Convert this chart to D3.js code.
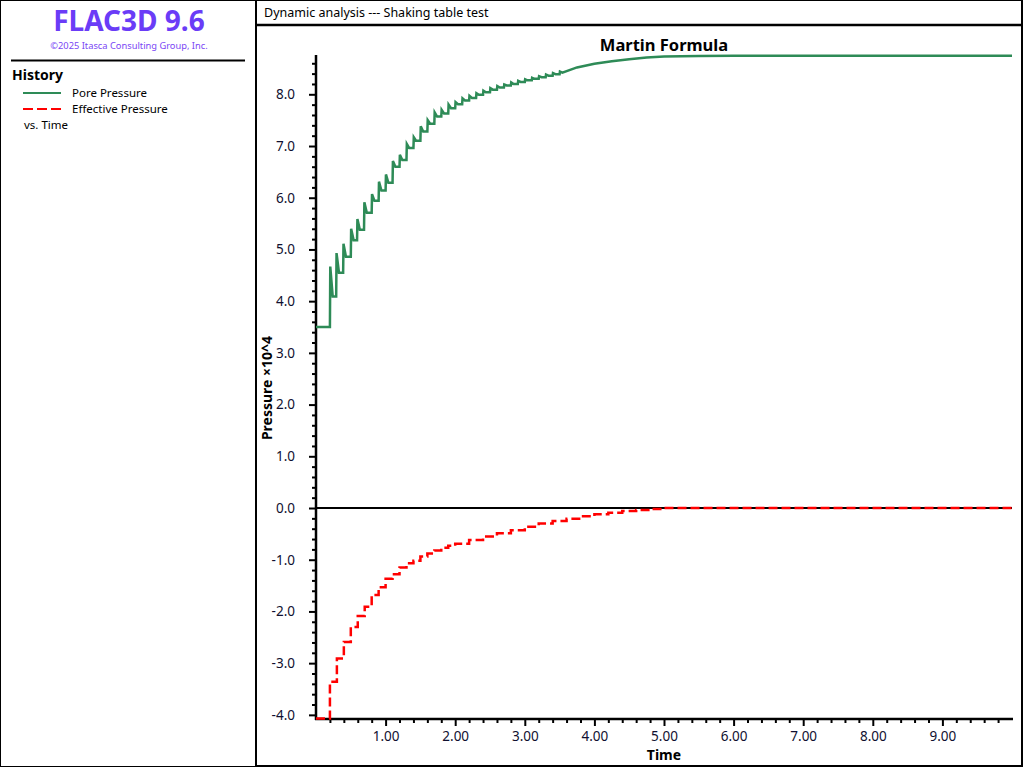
<!DOCTYPE html>
<html lang="en">
<head>
    <meta charset="UTF-8">
    <title>Martin Formula</title>
    <script src="https://d3js.org/d3.v7.min.js"></script>
    <style>
        body{
            margin: 0;
            background-color: white;
        }
        svg text{
            font-family: "Noto Sans", "Open Sans", sans-serif;
        }
        .tick text{
            font-size: 13.5px;
            fill: #101030;
        }
    </style>
</head>
<body>
<svg id="canvas" width="1024" height="768"></svg>
<script>

    // pore pressure: vertices (time, pressure x10^4)
    let poreT = [0, 0.20, 0.20, 0.205, 0.24, 0.29, 0.295, 0.33, 0.39, 0.395, 0.43, 0.50, 0.505, 0.54,
        0.59, 0.595, 0.63, 0.69, 0.695, 0.73, 0.80, 0.805, 0.84, 0.90, 0.905, 0.94, 1.00, 1.005, 1.04,
        1.10, 1.105, 1.14, 1.20, 1.205, 1.24, 1.30, 1.305, 1.34, 1.40, 1.405, 1.44, 1.50, 1.505, 1.54,
        1.60, 1.605, 1.64, 1.70, 1.705, 1.74, 1.80, 1.805, 1.84, 1.90, 1.905, 1.94, 2.00, 2.005, 2.04,
        2.10, 2.105, 2.14, 2.20, 2.205, 2.24, 2.30, 2.305, 2.34, 2.40, 2.405, 2.44,
        2.50, 2.505, 2.54, 2.60, 2.605, 2.64, 2.70, 2.705, 2.74, 2.80, 2.805, 2.84, 2.90, 2.905, 2.94,
        3.00, 3.005, 3.04, 3.10, 3.105, 3.14, 3.20, 3.205, 3.24, 3.30, 3.305, 3.34, 3.40, 3.405, 3.44,
        3.50, 3.505, 3.54, 3.75, 4.00, 4.25, 4.50, 4.75, 5.00, 5.50, 6.00, 10.00];
    let poreV = [3.50, 3.50, 3.50, 4.67, 4.09, 4.09, 4.93, 4.55, 4.55, 5.11, 4.86, 4.86, 5.40, 5.18,
        5.18, 5.59, 5.38, 5.38, 5.91, 5.71, 5.71, 6.07, 5.94, 5.94, 6.31, 6.14, 6.14, 6.45, 6.29,
        6.29, 6.71, 6.60, 6.60, 6.83, 6.73, 6.73, 7.04, 6.96, 6.96, 7.17, 7.10, 7.10, 7.38, 7.28,
        7.28, 7.50, 7.43, 7.43, 7.65, 7.57, 7.57, 7.70, 7.63, 7.63, 7.80, 7.73, 7.73, 7.85, 7.81,
        7.81, 7.92, 7.88, 7.88, 7.97, 7.93, 7.93, 8.02, 7.99, 7.99, 8.07, 8.04,
        8.04, 8.12, 8.09, 8.09, 8.16, 8.13, 8.13, 8.19, 8.17, 8.17, 8.23, 8.20, 8.20, 8.26, 8.24,
        8.24, 8.29, 8.27, 8.27, 8.32, 8.30, 8.30, 8.35, 8.33, 8.33, 8.38, 8.36, 8.36, 8.41, 8.39,
        8.39, 8.44, 8.42, 8.52, 8.59, 8.64, 8.68, 8.71, 8.73, 8.74, 8.745, 8.745];

    // effective pressure: step levels
    let effT = [0, 0.2, 0.3, 0.4, 0.5, 0.6, 0.7, 0.8, 0.9, 1.0, 1.1, 1.2, 1.3, 1.4, 1.5, 1.6, 1.7, 1.8,
        1.9, 2.0, 2.2, 2.4, 2.6, 2.8, 3.0, 3.2, 3.4, 3.6, 3.8, 4.0, 4.2, 4.4, 4.6, 4.8, 5.0, 10.0];
    let effV = [-4.07, -3.36, -2.91, -2.59, -2.30, -2.09, -1.91, -1.68, -1.53, -1.37, -1.28, -1.15,
        -1.07, -1.02, -0.94, -0.88, -0.82, -0.77, -0.73, -0.69, -0.62, -0.55, -0.49, -0.43, -0.36,
        -0.30, -0.25, -0.21, -0.16, -0.12, -0.09, -0.06, -0.04, -0.02, 0, 0];

    let xMajor = [1, 2, 3, 4, 5, 6, 7, 8, 9];
    let yMajor = [-4, -3, -2, -1, 0, 1, 2, 3, 4, 5, 6, 7, 8];
    let legendNames = ["Pore Pressure", "Effective Pressure"];

    let svg = d3.select('svg');

    // frames
    svg.append("rect").attr("x", 0.5).attr("y", 0.5).attr("width", 1022).attr("height", 766)
        .attr("fill", "none").attr("stroke", "black").attr("stroke-width", 1);
    svg.append("line").attr("x1", 256).attr("x2", 256).attr("y1", 0).attr("y2", 767)
        .attr("stroke", "black").attr("stroke-width", 2);
    svg.append("line").attr("x1", 256).attr("x2", 1023).attr("y1", 25).attr("y2", 25)
        .attr("stroke", "black").attr("stroke-width", 2.5);
    svg.append("line").attr("x1", 1022).attr("x2", 1022).attr("y1", 0).attr("y2", 767)
        .attr("stroke", "black").attr("stroke-width", 2);
    svg.append("line").attr("x1", 256).attr("x2", 1023).attr("y1", 766).attr("y2", 766)
        .attr("stroke", "black").attr("stroke-width", 2);

    // left panel
    svg.append("text").attr("x", 129).attr("y", 31).attr("text-anchor", "middle")
        .attr("font-size", 28).attr("font-weight", "bold").attr("fill", "#6a3cf7")
        .text("FLAC3D 9.6");
    svg.append("text").attr("x", 129).attr("y", 49).attr("text-anchor", "middle")
        .attr("font-size", 9.3).attr("fill", "#7a46f5")
        .text("©2025 Itasca Consulting Group, Inc.");
    svg.append("line").attr("x1", 11).attr("x2", 245).attr("y1", 60.5).attr("y2", 60.5)
        .attr("stroke", "black").attr("stroke-width", 2);
    svg.append("text").attr("x", 12).attr("y", 80).attr("font-size", 14).attr("font-weight", "bold")
        .text("History");
    let legend = svg.append("g");
    legend.selectAll("line").data(legendNames).enter().append("line")
        .attr("x1", 23).attr("x2", 61)
        .attr("y1", (d, i) => 93 + i * 16).attr("y2", (d, i) => 93 + i * 16)
        .attr("stroke", (d, i) => i === 0 ? "#2e8b57" : "red")
        .attr("stroke-width", 2)
        .attr("stroke-dasharray", (d, i) => i === 0 ? null : "10,4");
    legend.selectAll("text").data(legendNames).enter().append("text")
        .attr("x", 72).attr("y", (d, i) => 97 + i * 16)
        .attr("font-size", 11.5)
        .text(d => d);
    svg.append("text").attr("x", 24).attr("y", 129).attr("font-size", 11.5).text("vs. Time");

    // header
    svg.append("text").attr("x", 264).attr("y", 17).attr("font-size", 12.5)
        .text("Dynamic analysis --- Shaking table test");

    // plot
    let x = d3.scaleLinear().domain([0, 10]).range([316, 1012]);
    let y = d3.scaleLinear().domain([-4.08, 8.76]).range([719, 55]);

    let xMinor = d3.range(2, 100, 2).map(d => d / 10).filter(d => d % 1 !== 0);
    let yMinor = d3.range(-40, 88, 2).map(d => d / 10).filter(d => Math.abs(d % 1) > 1e-9);

    // hyphen minus like the original, not the unicode minus
    let yFmt = d => d.toFixed(1);

    svg.append("g").attr("transform", "translate(0,719)")
        .call(d3.axisBottom(x).tickValues(xMinor).tickSize(4).tickFormat(""))
        .call(g => g.select(".domain").remove())
        .call(g => g.selectAll(".tick line").attr("stroke-width", 2));
    svg.append("g").attr("transform", "translate(0,719)")
        .call(d3.axisBottom(x).tickValues(xMajor).tickSize(7).tickPadding(5).tickFormat(d => d.toFixed(2)))
        .call(g => g.select(".domain").remove())
        .call(g => g.selectAll(".tick line").attr("stroke-width", 2))
        .call(g => g.selectAll(".tick text").attr("font-family", null));
    svg.append("line").attr("x1", 315).attr("x2", 1013).attr("y1", 719).attr("y2", 719)
        .attr("stroke", "black").attr("stroke-width", 2.5);

    svg.append("g").attr("transform", "translate(316,0)")
        .call(d3.axisLeft(y).tickValues(yMinor).tickSize(4).tickFormat(""))
        .call(g => g.select(".domain").remove())
        .call(g => g.selectAll(".tick line").attr("stroke-width", 2));
    svg.append("g").attr("transform", "translate(316,0)")
        .call(d3.axisLeft(y).tickValues(yMajor).tickSize(7).tickPadding(14).tickFormat(yFmt))
        .call(g => g.select(".domain").remove())
        .call(g => g.selectAll(".tick line").attr("stroke-width", 2))
        .call(g => g.selectAll(".tick text").attr("font-family", null));
    svg.append("line").attr("x1", 316).attr("x2", 316).attr("y1", 55).attr("y2", 720)
        .attr("stroke", "black").attr("stroke-width", 2.5);

    // zero line
    svg.append("line").attr("x1", x(0)).attr("x2", x(10)).attr("y1", y(0)).attr("y2", y(0))
        .attr("stroke", "black").attr("stroke-width", 2);

    let poreLine = d3.line().x(d => x(d[0])).y(d => y(d[1]));
    svg.append("path").datum(d3.zip(poreT, poreV))
        .attr("d", poreLine).attr("fill", "none")
        .attr("stroke", "#2e8b57").attr("stroke-width", 2.5);

    let effLine = d3.line().x(d => x(d[0])).y(d => y(d[1])).curve(d3.curveStepAfter);
    svg.append("path").datum(d3.zip(effT, effV))
        .attr("d", effLine).attr("fill", "none")
        .attr("stroke", "red").attr("stroke-width", 2.5)
        .attr("stroke-dasharray", "9,4");

    // titles
    svg.append("text").attr("x", 664).attr("y", 51).attr("text-anchor", "middle")
        .attr("font-size", 16.5).attr("font-weight", "bold").text("Martin Formula");
    svg.append("text").attr("x", 664).attr("y", 760).attr("text-anchor", "middle")
        .attr("font-size", 14).attr("font-weight", "bold").text("Time");
    svg.append("text").attr("transform", "translate(272,388) rotate(-90)").attr("text-anchor", "middle")
        .attr("font-size", 14).attr("font-weight", "bold").text("Pressure ×10^4");

</script>
</body>
</html>
